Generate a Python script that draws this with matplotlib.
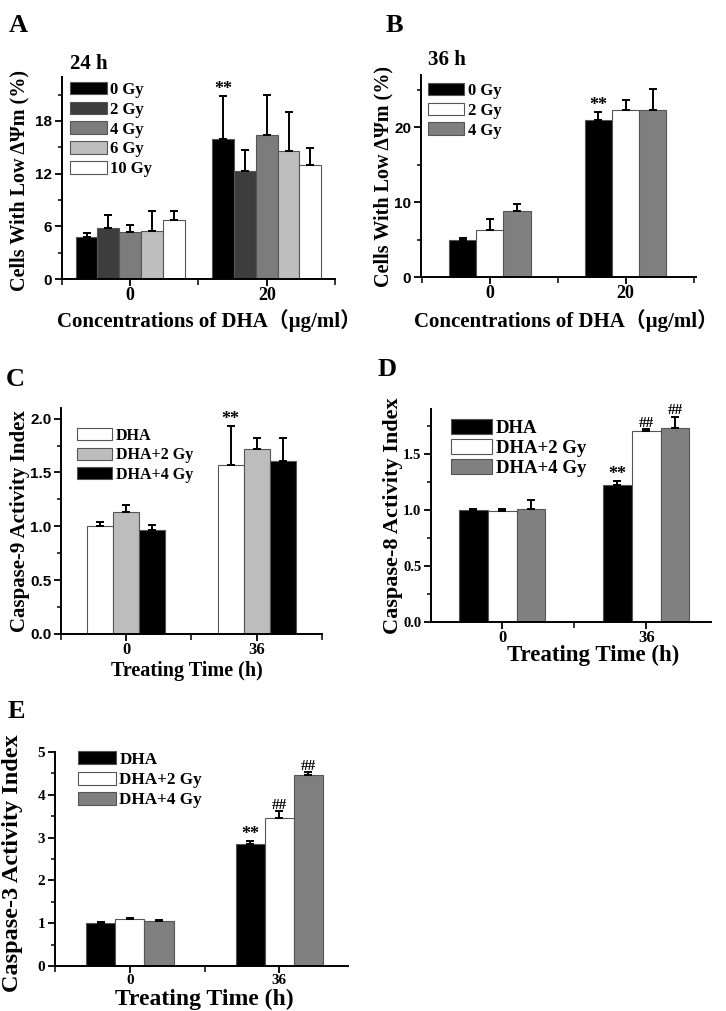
import numpy as np
import matplotlib.pyplot as plt
from matplotlib.ticker import MultipleLocator

# Data

# Panel A - 24 h, low membrane potential (%)
a_groups = ["0", "20"]
a_series = ["0 Gy", "2 Gy", "4 Gy", "6 Gy", "10 Gy"]
a_values = [[4.8, 16.0], [5.8, 12.3], [5.3, 16.4], [5.5, 14.6], [6.7, 13.0]]
a_errors = [[0.4, 4.8], [1.5, 2.4], [0.8, 4.6], [2.3, 4.4], [1.1, 1.9]]
a_colors = ["#000000", "#3d3d3d", "#7c7c7c", "#bebebe", "#ffffff"]

# Panel B - 36 h
b_groups = ["0", "20"]
b_series = ["0 Gy", "2 Gy", "4 Gy"]
b_values = [[4.9, 21.0], [6.3, 22.3], [8.8, 22.3]]
b_errors = [[0.3, 1.0], [1.5, 1.4], [0.9, 2.8]]
b_colors = ["#000000", "#ffffff", "#808080"]

# Panel C - caspase-9
c_groups = ["0", "36"]
c_series = ["DHA", "DHA+2 Gy", "DHA+4 Gy"]
c_values = [[1.0, 1.57], [1.13, 1.72], [0.97, 1.61]]
c_errors = [[0.04, 0.36], [0.07, 0.10], [0.04, 0.21]]
c_colors = ["#ffffff", "#bdbdbd", "#000000"]

# Panel D - caspase-8
d_groups = ["0", "36"]
d_series = ["DHA", "DHA+2 Gy", "DHA+4 Gy"]
d_values = [[1.0, 1.22], [0.99, 1.70], [1.005, 1.73]]
d_errors = [[0.006, 0.035], [0.02, 0.02], [0.08, 0.10]]
d_colors = ["#000000", "#ffffff", "#808080"]

# Panel E - caspase-3
e_groups = ["0", "36"]
e_series = ["DHA", "DHA+2 Gy", "DHA+4 Gy"]
e_values = [[1.0, 2.84], [1.1, 3.46], [1.05, 4.47]]
e_errors = [[0.02, 0.07], [0.01, 0.15], [0.02, 0.06]]
e_colors = ["#000000", "#ffffff", "#808080"]

SERIF = ["Liberation Serif", "Noto Sans CJK SC"]
SANS = ["Liberation Sans"]

plt.rcParams["font.family"] = SERIF
plt.rcParams["font.weight"] = "bold"
plt.rcParams["axes.linewidth"] = 1.4


def grouped_bars(ax, values, errors, colors, labels, width):
    n = len(values)
    x = np.arange(len(values[0]))
    tops = []
    for i in range(n):
        pos = x + (i - (n - 1) / 2) * width
        ax.bar(pos, values[i], width, color=colors[i], edgecolor="#555555",
               linewidth=0.8, label=labels[i], zorder=2)
        ax.errorbar(pos, values[i], yerr=[np.zeros(len(pos)), errors[i]],
                    fmt="none", ecolor="black", elinewidth=1.4, capsize=3,
                    capthick=1.4, zorder=3)
        tops.append((pos, np.array(values[i]) + np.array(errors[i])))
    return tops


def style_axes(ax, groups, ylim, major, minor, xlim, sans_y, xsize=12, ysize=11):
    ax.spines["top"].set_visible(False)
    ax.spines["right"].set_visible(False)
    ax.set_xlim(*xlim)
    ax.set_ylim(*ylim)
    ax.set_xticks(range(len(groups)))
    ax.set_xticklabels(groups)
    ax.xaxis.set_minor_locator(MultipleLocator(0.5))
    ax.yaxis.set_major_locator(MultipleLocator(major))
    ax.yaxis.set_minor_locator(MultipleLocator(minor))
    ax.tick_params(which="major", direction="out", length=5, width=1.3, pad=2)
    ax.tick_params(which="minor", direction="out", length=3, width=1.1)
    ax.tick_params(axis="x", which="minor", length=4)
    ax.tick_params(axis="x", labelsize=xsize, pad=1)
    ax.tick_params(axis="y", labelsize=ysize)
    for t in ax.get_xticklabels():
        t.set_fontweight("bold")
    for t in ax.get_yticklabels():
        t.set_fontweight("bold")
        if sans_y:
            t.set_family(SANS)


def legend(ax, x, y, size, spacing=0.22):
    ax.legend(loc="upper left", bbox_to_anchor=(x, y), frameon=False,
              handlelength=2.2, handleheight=0.8, handletextpad=0.2,
              labelspacing=spacing, borderaxespad=0,
              prop={"weight": "bold", "size": size})


fig = plt.figure(figsize=(7.26, 10.11), dpi=100)

# A
axA = fig.add_axes([0.0854, 0.724, 0.376, 0.1998])
tops = grouped_bars(axA, a_values, a_errors, a_colors, a_series, 0.16)
style_axes(axA, a_groups, (0, 23), 6, 3, (-0.5, 1.5), True, xsize=13)
legend(axA, 0.005, 1.01, 12)
axA.text(0.03, 1.065, "24 h", transform=axA.transAxes, fontsize=15,
         fontweight="bold", va="center")
axA.text(tops[0][0][1], tops[0][1][1] + 0.3, "**", ha="center", fontsize=13)
axA.set_ylabel("Cells With Low \u0394\u03a8m (%)", fontsize=14.5, fontweight="bold")
axA.yaxis.set_label_coords(-0.118, 0.49)
axA.set_xlabel("Concentrations of DHA\uff08\u03bcg/ml\uff09", fontsize=15,
               fontweight="bold", va="top")
axA.xaxis.set_label_coords(0.54, -0.15)

# B
axB = fig.add_axes([0.580, 0.726, 0.379, 0.1998])
tops = grouped_bars(axB, b_values, b_errors, b_colors, b_series, 0.2)
style_axes(axB, b_groups, (0, 27), 10, 5, (-0.506, 1.52), True, xsize=13)
legend(axB, 0.0, 0.995, 12)
axB.text(0.025, 1.075, "36 h", transform=axB.transAxes, fontsize=15,
         fontweight="bold", va="center")
axB.text(tops[0][0][1], tops[0][1][1] + 0.3, "**", ha="center", fontsize=13)
axB.set_ylabel("Cells With Low \u0394\u03a8m (%)", fontsize=14.5, fontweight="bold")
axB.yaxis.set_label_coords(-0.1, 0.5)
axB.set_xlabel("Concentrations of DHA\uff08\u03bcg/ml\uff09", fontsize=15,
               fontweight="bold", va="top")
axB.xaxis.set_label_coords(0.527, -0.16)

# C
axC = fig.add_axes([0.084, 0.373, 0.3595, 0.2235])
tops = grouped_bars(axC, c_values, c_errors, c_colors, c_series, 0.2)
style_axes(axC, c_groups, (0, 2.1), 0.5, 0.25, (-0.5, 1.5), True)
legend(axC, 0.038, 0.94, 11.5)
axC.text(tops[0][0][1], tops[0][1][1] + 0.02, "**", ha="center", fontsize=13)
axC.set_ylabel("Caspase-9 Activity Index", fontsize=15, fontweight="bold")
axC.yaxis.set_label_coords(-0.12, 0.5)
axC.set_xlabel("Treating Time (h)", fontsize=14.5, fontweight="bold", va="top")
axC.xaxis.set_label_coords(0.483, -0.12)

# D
axD = fig.add_axes([0.5937, 0.385, 0.3857, 0.2107])
tops = grouped_bars(axD, d_values, d_errors, d_colors, d_series, 0.2)
style_axes(axD, d_groups, (0, 1.9), 0.5, 0.25, (-0.495, 1.45), False, ysize=10.5)
legend(axD, 0.045, 0.985, 13.5, spacing=0.12)
axD.text(tops[0][0][1], tops[0][1][1] + 0.02, "**", ha="center", fontsize=13)
for k in (1, 2):
    axD.text(tops[k][0][1], tops[k][1][1] + 0.02, "##", ha="center", fontsize=11)
axD.set_ylabel("Caspase-8 Activity Index", fontsize=16, fontweight="bold")
axD.yaxis.set_label_coords(-0.1, 0.5)
axD.set_xlabel("Treating Time (h)", fontsize=16.5, fontweight="bold", va="top")
axD.xaxis.set_label_coords(0.58, -0.11)

# E
axE = fig.add_axes([0.0758, 0.0445, 0.4036, 0.2117])
tops = grouped_bars(axE, e_values, e_errors, e_colors, e_series, 0.195)
style_axes(axE, e_groups, (0, 5.0), 1, 0.5, (-0.5, 1.46), False, xsize=11, ysize=11)
legend(axE, 0.056, 1.035, 12.3)
axE.text(tops[0][0][1], tops[0][1][1] + 0.05, "**", ha="center", fontsize=13)
for k in (1, 2):
    axE.text(tops[k][0][1], tops[k][1][1] + 0.05, "##", ha="center", fontsize=11)
axE.set_ylabel("Caspase-3 Activity Index", fontsize=17.5, fontweight="bold")
axE.yaxis.set_label_coords(-0.11, 0.48)
axE.set_xlabel("Treating Time (h)", fontsize=17, fontweight="bold", va="top")
axE.xaxis.set_label_coords(0.51, -0.108)

# panel letters
for lbl, x, y in [("A", 0.012, 0.975), ("B", 0.531, 0.975), ("C", 0.008, 0.625),
                  ("D", 0.52, 0.635), ("E", 0.01, 0.296)]:
    fig.text(x, y, lbl, fontsize=19, fontweight="bold", va="center")

fig.savefig("out.png", dpi=100)
